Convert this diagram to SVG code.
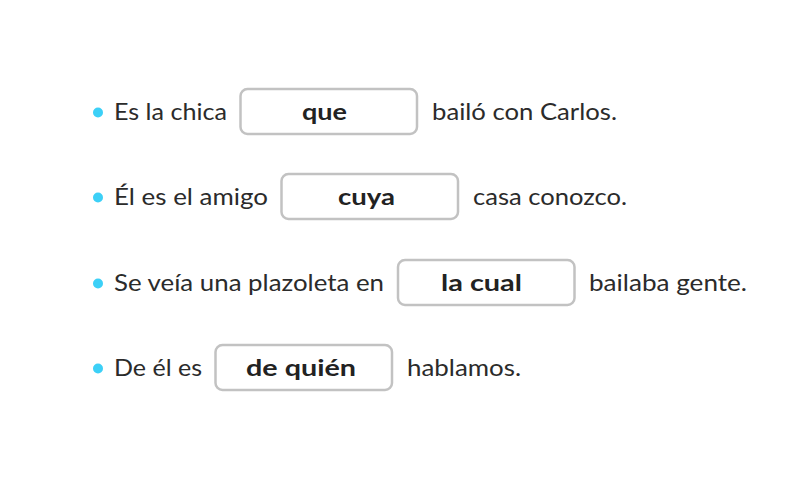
<svg xmlns="http://www.w3.org/2000/svg" width="802" height="489" viewBox="0 0 802 489">
<style>
.t{font-family:Lato,"Open Sans","Liberation Sans",sans-serif;font-size:23px;fill:#2b2b2b}
.a{font-family:Lato,"Open Sans","Liberation Sans",sans-serif;font-size:23px;font-weight:bold;fill:#222;text-anchor:middle}
.b{fill:#ffffff;stroke:#c2c2c2;stroke-width:2.5}
.d{fill:#3cd0f7}
</style>
<rect width="802" height="489" fill="#ffffff"/>
<g id="row1">
<circle class="d" cx="98" cy="112.5" r="5"/>
<text class="t" x="114" y="120" textLength="113" lengthAdjust="spacingAndGlyphs">Es la chica</text>
<rect class="b" x="240.5" y="89" width="176.5" height="45" rx="7"/>
<text class="a" x="324.5" y="120" textLength="45" lengthAdjust="spacingAndGlyphs">que</text>
<text class="t" x="432" y="120" textLength="185" lengthAdjust="spacingAndGlyphs">bailó con Carlos.</text>
</g>
<g id="row2">
<circle class="d" cx="98" cy="197.5" r="5"/>
<text class="t" x="114" y="205" textLength="154" lengthAdjust="spacingAndGlyphs">Él es el amigo</text>
<rect class="b" x="281.5" y="174" width="176.5" height="45" rx="7"/>
<text class="a" x="366.5" y="205" textLength="57" lengthAdjust="spacingAndGlyphs">cuya</text>
<text class="t" x="473" y="205" textLength="154" lengthAdjust="spacingAndGlyphs">casa conozco.</text>
</g>
<g id="row3">
<circle class="d" cx="98" cy="283.5" r="5"/>
<text class="t" x="114" y="291" textLength="270" lengthAdjust="spacingAndGlyphs">Se veía una plazoleta en</text>
<rect class="b" x="398" y="260" width="176.5" height="45" rx="7"/>
<text class="a" x="481.5" y="291" textLength="81" lengthAdjust="spacingAndGlyphs">la cual</text>
<text class="t" x="589" y="291" textLength="158" lengthAdjust="spacingAndGlyphs">bailaba gente.</text>
</g>
<g id="row4">
<circle class="d" cx="98" cy="368.5" r="5"/>
<text class="t" x="114" y="376" textLength="88" lengthAdjust="spacingAndGlyphs">De él es</text>
<rect class="b" x="215.5" y="345" width="176.5" height="45" rx="7"/>
<text class="a" x="301" y="376" textLength="110" lengthAdjust="spacingAndGlyphs">de quién</text>
<text class="t" x="407" y="376" textLength="114" lengthAdjust="spacingAndGlyphs">hablamos.</text>
</g>
</svg>
